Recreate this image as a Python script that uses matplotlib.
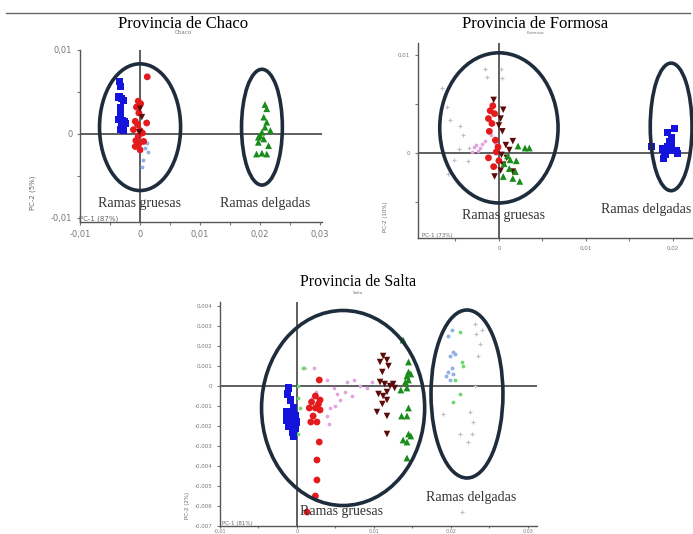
import matplotlib
matplotlib.use('Agg')
import matplotlib.pyplot as plt
from matplotlib.patches import Ellipse

# tamaño de la figura original en px
W, H = 693, 534

# ---------------- Chaco ----------------
chaco_azul = [(-0.0034, 0.0062), (-0.0033, 0.0056), (-0.0035, 0.0044), (-0.0031, 0.0042),
              (-0.0028, 0.0040), (-0.0033, 0.0031), (-0.0032, 0.0027), (-0.0036, 0.0017),
              (-0.0030, 0.0016), (-0.0026, 0.0015), (-0.0029, 0.0010), (-0.0032, 0.0005),
              (-0.0027, 0.0004), (-0.0024, 0.0012), (-0.0033, 0.0020), (-0.0030, 0.0008)]
chaco_rojo = [(0.0012, 0.0068), (-0.0003, 0.0039), (0.0001, 0.0036), (-0.0006, 0.0032),
              (-0.0002, 0.0025), (-0.0008, 0.0015), (0.0011, 0.0013), (-0.0004, 0.0011),
              (-0.0011, 0.0005), (0.0000, 0.0004), (0.0004, 0.0001), (-0.0003, -0.0003),
              (-0.0007, -0.0008), (0.0006, -0.0009), (-0.0008, -0.0015), (0.0000, -0.0019),
              (-0.0002, -0.0012)]
chaco_bordo = [(0.0000, 0.0030), (0.0003, 0.0020), (-0.0001, 0.0002)]
chaco_celeste = [(0.0012, -0.0011), (0.0008, -0.0017), (0.0005, -0.0031), (0.0003, -0.0039),
                 (0.0014, -0.0022)]
chaco_verde = [(0.0208, 0.0035), (0.0211, 0.0030), (0.0206, 0.0020), (0.0211, 0.0014),
               (0.0208, 0.0008), (0.0203, 0.0002), (0.0200, -0.0002), (0.0206, -0.0006),
               (0.0197, -0.0010), (0.0214, -0.0014), (0.0211, -0.0024), (0.0203, -0.0023),
               (0.0194, -0.0024), (0.0217, 0.0004), (0.0197, -0.0004)]
# (centro x, centro y, ancho, alto)
chaco_elipses = [(0.0000, 0.0008, 0.0135, 0.0151), (0.0203, 0.0008, 0.0068, 0.0138)]

# ---------------- Formosa ----------------
formosa_rojo = [(-0.0012, 0.0035), (-0.0010, 0.0043), (-0.0007, 0.0048), (-0.0005, 0.0040),
                (-0.0011, 0.0022), (-0.0004, 0.0013), (-0.0003, 0.0001), (-0.0012, -0.0005),
                (-0.0006, -0.0014), (-0.0001, 0.0006), (-0.0008, 0.0030), (0.0000, -0.0008)]
formosa_bordo = [(-0.0006, 0.0054), (0.0005, 0.0044), (0.0002, 0.0035), (0.0000, 0.0028),
                 (0.0004, 0.0022), (0.0016, 0.0012), (0.0008, 0.0008), (0.0012, 0.0003),
                 (0.0003, -0.0002), (0.0009, -0.0005), (0.0005, -0.0012), (0.0016, -0.0019),
                 (-0.0005, -0.0024), (0.0002, -0.0018)]
formosa_verde = [(0.0030, 0.0005), (0.0035, 0.0005), (0.0022, 0.0007), (0.0013, -0.0007),
                 (0.0020, -0.0008), (0.0006, -0.0011), (0.0012, -0.0016), (0.0005, -0.0024),
                 (0.0019, -0.0019), (0.0024, -0.0029), (0.0016, -0.0026), (0.0010, -0.0003)]
formosa_rosa = [(-0.0029, 0.0006), (-0.0026, 0.0008), (-0.0022, 0.0005), (-0.0019, 0.0009),
                (-0.0024, 0.0002), (-0.0016, 0.0012), (-0.0009, 0.0018), (-0.0005, 0.0010),
                (-0.0031, 0.0001)]
formosa_gris = [(-0.0016, 0.0086), (-0.0014, 0.0077), (0.0002, 0.0086), (0.0004, 0.0076),
                (-0.0065, 0.0066), (-0.0062, 0.0058), (-0.0056, 0.0034), (-0.0045, 0.0027),
                (-0.0052, -0.0007), (-0.0046, 0.0004), (-0.0034, 0.0005), (-0.0058, -0.0021),
                (-0.0036, -0.0008), (-0.0041, 0.0018), (-0.0060, 0.0047)]
formosa_azul = [(0.0202, 0.0025), (0.0194, 0.0021), (0.0198, 0.0016), (0.0196, 0.0012),
                (0.0175, 0.0007), (0.0188, 0.0004), (0.0194, 0.0006), (0.0200, 0.0002),
                (0.0204, 0.0002), (0.0190, -0.0001), (0.0189, -0.0006), (0.0198, 0.0009),
                (0.0192, -0.0002), (0.0205, -0.0001)]
formosa_elipses = [(0.0000, 0.00255, 0.0136, 0.0153), (0.0198, 0.00265, 0.0048, 0.0130)]

# ---------------- Salta ----------------
salta_azul = [(-0.0011, -0.0001), (-0.0012, -0.0004), (-0.0008, -0.0007), (-0.0005, -0.0011),
              (-0.0013, -0.0013), (-0.0006, -0.0015), (-0.0002, -0.0015), (-0.0014, -0.0017),
              (-0.0008, -0.0018), (-0.0004, -0.0019), (-0.0011, -0.0020), (-0.0002, -0.0021),
              (-0.0006, -0.0023), (-0.0005, -0.0025), (0.0000, -0.0018), (-0.0009, -0.0016)]
salta_rojo = [(0.0029, 0.0003), (0.0024, -0.0005), (0.0019, -0.0008), (0.0030, -0.0007),
              (0.0024, -0.0011), (0.0030, -0.0012), (0.0021, -0.0015), (0.0026, -0.0018),
              (0.0018, -0.0018), (0.0028, -0.0009), (0.0029, -0.0028), (0.0026, -0.0037),
              (0.0026, -0.0047), (0.0024, -0.0055), (0.0013, -0.0063), (0.0016, -0.0011)]
salta_rosa = [(0.0039, 0.0003), (0.0048, -0.0001), (0.0052, -0.0004), (0.0056, -0.0007),
              (0.0063, -0.0003), (0.0065, 0.0002), (0.0074, 0.0003), (0.0082, 0.0000),
              (0.0091, -0.0001), (0.0098, 0.0002), (0.0071, -0.0005), (0.0043, -0.0011),
              (0.0039, -0.0015), (0.0050, -0.0010), (0.0042, -0.0019), (0.0022, 0.0009),
              (0.0025, -0.0003), (0.0020, -0.0006)]
salta_bordo = [(0.0112, 0.0015), (0.0117, 0.0013), (0.0108, 0.0012), (0.0119, 0.0010),
               (0.0111, 0.0007), (0.0108, 0.0002), (0.0114, 0.0001), (0.0121, 0.0000),
               (0.0125, 0.0001), (0.0106, -0.0004), (0.0117, -0.0003), (0.0112, -0.0005),
               (0.0117, -0.0007), (0.0111, -0.0009), (0.0104, -0.0013), (0.0117, -0.0015),
               (0.0117, -0.0024), (0.0127, -0.0001)]
salta_verde = [(0.0138, 0.0023), (0.0145, 0.0012), (0.0145, 0.0007), (0.0143, 0.0005),
               (0.0148, 0.0006), (0.0145, 0.0003), (0.0141, 0.0002), (0.0143, -0.0001),
               (0.0145, -0.0011), (0.0143, -0.0015), (0.0136, -0.0015), (0.0145, -0.0024),
               (0.0138, -0.0027), (0.0143, -0.0028), (0.0148, -0.0025), (0.0143, -0.0036),
               (0.0135, -0.0002)]
salta_verde_claro = [(0.0002, 0.0000), (0.0002, -0.0006), (0.0004, -0.0011), (0.0008, 0.0009),
                     (0.0001, -0.0024), (0.0214, 0.0012), (0.0216, 0.0010), (0.0212, 0.0027),
                     (0.0205, 0.0003), (0.0212, -0.0004), (0.0203, -0.0008)]
salta_celeste = [(0.0201, 0.0028), (0.0196, 0.0025), (0.0203, 0.0017), (0.0199, 0.0015),
                 (0.0205, 0.0016), (0.0201, 0.0009), (0.0196, 0.0007), (0.0203, 0.0006),
                 (0.0194, 0.0005), (0.0199, 0.0003)]
salta_gris = [(0.0231, 0.0031), (0.0233, 0.0026), (0.0238, 0.0021), (0.0235, 0.0015),
              (0.0231, 0.0000), (0.0225, -0.0013), (0.0229, -0.0018), (0.0227, -0.0024),
              (0.0222, -0.0028), (0.0212, -0.0024), (0.0190, -0.0014), (0.0214, -0.0063),
              (0.0240, 0.0028), (0.0011, 0.0009)]
salta_elipses = [(0.0060, -0.0011, 0.0212, 0.00975), (0.0221, -0.0004, 0.00935, 0.0084)]

# estilos por grupo: (marcador, color, tamaño)
estilos = {
    'azul': ('s', '#1414dc', 26),
    'rojo': ('o', '#e41a1c', 24),
    'bordo': ('v', '#5c0a0a', 22),
    'verde': ('^', '#1a8c1a', 24),
    'celeste': ('.', '#8fb0e6', 16),
    'rosa': ('.', '#e3a3e0', 14),
    'gris': ('+', '#c4bcc4', 10),
    'verde_claro': ('.', '#6ad86a', 14),
}

fig = plt.figure(figsize=(W / 100, H / 100), dpi=100)
fig.patch.set_facecolor('white')


def px(x, y):
    return x / W, 1 - y / H


def panel(left, right, top, bottom):
    return fig.add_axes([left / W, 1 - bottom / H, (right - left) / W, (bottom - top) / H])


def preparar(ax, xlim, ylim, xt, xl, yt, yl, xmin, ymin, fs):
    ax.set_xlim(xlim)
    ax.set_ylim(ylim)
    ax.patch.set_alpha(0)
    for s in ['top', 'right']:
        ax.spines[s].set_visible(False)
    for s in ['left', 'bottom']:
        ax.spines[s].set_color('#555555')
        ax.spines[s].set_linewidth(1.0)
    ax.set_xticks(xt)
    ax.set_xticklabels(xl)
    ax.set_yticks(yt)
    ax.set_yticklabels(yl)
    ax.set_xticks(xmin, minor=True)
    ax.set_yticks(ymin, minor=True)
    ax.tick_params(which='both', labelsize=fs, colors='#777777', length=2.5, width=0.8, pad=3)
    ax.axhline(0, color='#333333', lw=1.1, zorder=1)
    ax.axvline(0, color='#333333', lw=1.1, zorder=1)


def puntos(ax, datos, grupo):
    m, c, s = estilos[grupo]
    xs = [p[0] for p in datos]
    ys = [p[1] for p in datos]
    if m in ('+', '.'):
        ax.scatter(xs, ys, marker=m, c=c, s=s, linewidths=0.8, zorder=3)
    else:
        ax.scatter(xs, ys, marker=m, c=c, s=s, edgecolors='none', zorder=3)


def elipses(ax, lista):
    for cx, cy, w, h in lista:
        ax.add_patch(Ellipse((cx, cy), w, h, fill=False, ec='#1e2c3c', lw=2.6,
                             zorder=4, clip_on=False))


serif = 'Liberation Serif'

# separador superior
fig.add_artist(plt.Line2D([6 / W, 690 / W], [1 - 13 / H, 1 - 13 / H], color='#666666', lw=1))

# --- panel Chaco ---
ax1 = panel(80, 322, 50, 222)
preparar(ax1, (-0.01, 0.0303), (-0.0105, 0.0100),
         [-0.01, 0, 0.01, 0.02, 0.03], ['-0,01', '0', '0,01', '0,02', '0,03'],
         [-0.01, 0, 0.01], ['-0,01', '0', '0,01'],
         [-0.005, 0.005, 0.015, 0.025], [-0.005, 0.005], 6)
puntos(ax1, chaco_celeste, 'celeste')
puntos(ax1, chaco_azul, 'azul')
puntos(ax1, chaco_rojo, 'rojo')
puntos(ax1, chaco_bordo, 'bordo')
puntos(ax1, chaco_verde, 'verde')
elipses(ax1, chaco_elipses)
fig.text(*px(183, 24), 'Provincia de Chaco', family=serif, fontsize=12, ha='center', va='center')
fig.text(*px(183, 33), 'Chaco', fontsize=4, color='#777777', ha='center', va='center')
fig.text(*px(140, 204), 'Ramas gruesas', family=serif, fontsize=10, color='#333333',
         ha='center', va='center')
fig.text(*px(265, 204), 'Ramas delgadas', family=serif, fontsize=10, color='#333333',
         ha='center', va='center')
fig.text(*px(33, 193), 'PC-2 (5%)', fontsize=5, color='#666666', rotation=90,
         ha='center', va='center')
fig.text(*px(99, 219), 'PC-1 (87%)', fontsize=5, color='#666666', ha='center', va='center')

# --- panel Formosa ---
ax2 = panel(418, 692, 43, 238)
preparar(ax2, (-0.0093, 0.0222), (-0.00867, 0.0112),
         [0, 0.01, 0.02], ['0', '0,01', '0,02'],
         [0, 0.01], ['0', '0,01'],
         [-0.005, 0.005, 0.015], [-0.005, 0.005], 4)
puntos(ax2, formosa_gris, 'gris')
puntos(ax2, formosa_rosa, 'rosa')
puntos(ax2, formosa_rojo, 'rojo')
puntos(ax2, formosa_bordo, 'bordo')
puntos(ax2, formosa_verde, 'verde')
puntos(ax2, formosa_azul, 'azul')
elipses(ax2, formosa_elipses)
fig.text(*px(535, 24), 'Provincia de Formosa', family=serif, fontsize=12, ha='center', va='center')
fig.text(*px(535, 33), 'Formosa', fontsize=3, color='#777777', ha='center', va='center')
fig.text(*px(504, 215), 'Ramas gruesas', family=serif, fontsize=10, color='#333333',
         ha='center', va='center')
fig.text(*px(646, 209), 'Ramas delgadas', family=serif, fontsize=10, color='#333333',
         ha='center', va='center')
fig.text(*px(385, 217), 'PC-2 (10%)', fontsize=4, color='#666666', rotation=90,
         ha='center', va='center')
fig.text(*px(437, 236), 'PC-1 (73%)', fontsize=4, color='#666666', ha='center', va='center')

# --- panel Salta ---
ax3 = panel(220, 537, 302, 526)
preparar(ax3, (-0.0100, 0.0312), (-0.0070, 0.0042),
         [-0.01, 0, 0.01, 0.02, 0.03], ['-0,01', '0', '0,01', '0,02', '0,03'],
         [0.004, 0.003, 0.002, 0.001, 0, -0.001, -0.002, -0.003, -0.004, -0.005, -0.006, -0.007],
         ['0,004', '0,003', '0,002', '0,001', '0', '-0,001', '-0,002', '-0,003', '-0,004',
          '-0,005', '-0,006', '-0,007'],
         [-0.005, 0.005, 0.015, 0.025], [], 4)
ax3.tick_params(axis='x', which='both', length=1.5, pad=0.5, labelsize=3.5)
puntos(ax3, salta_gris, 'gris')
puntos(ax3, salta_rosa, 'rosa')
puntos(ax3, salta_verde_claro, 'verde_claro')
puntos(ax3, salta_celeste, 'celeste')
puntos(ax3, salta_azul, 'azul')
puntos(ax3, salta_rojo, 'rojo')
puntos(ax3, salta_bordo, 'bordo')
puntos(ax3, salta_verde, 'verde')
elipses(ax3, salta_elipses)
fig.text(*px(358, 282), 'Provincia de Salta', family=serif, fontsize=11.5, ha='center', va='center')
fig.text(*px(358, 293), 'Salta', fontsize=3, color='#777777', ha='center', va='center')
fig.text(*px(341, 512), 'Ramas gruesas', family=serif, fontsize=10, color='#333333',
         ha='center', va='center')
fig.text(*px(471, 497), 'Ramas delgadas', family=serif, fontsize=10, color='#333333',
         ha='center', va='center')
fig.text(*px(188, 505), 'PC-2 (2%)', fontsize=4, color='#666666', rotation=90,
         ha='center', va='center')
fig.text(*px(237, 523), 'PC-1 (81%)', fontsize=4, color='#666666', ha='center', va='center')

fig.savefig('out.png', dpi=100)
